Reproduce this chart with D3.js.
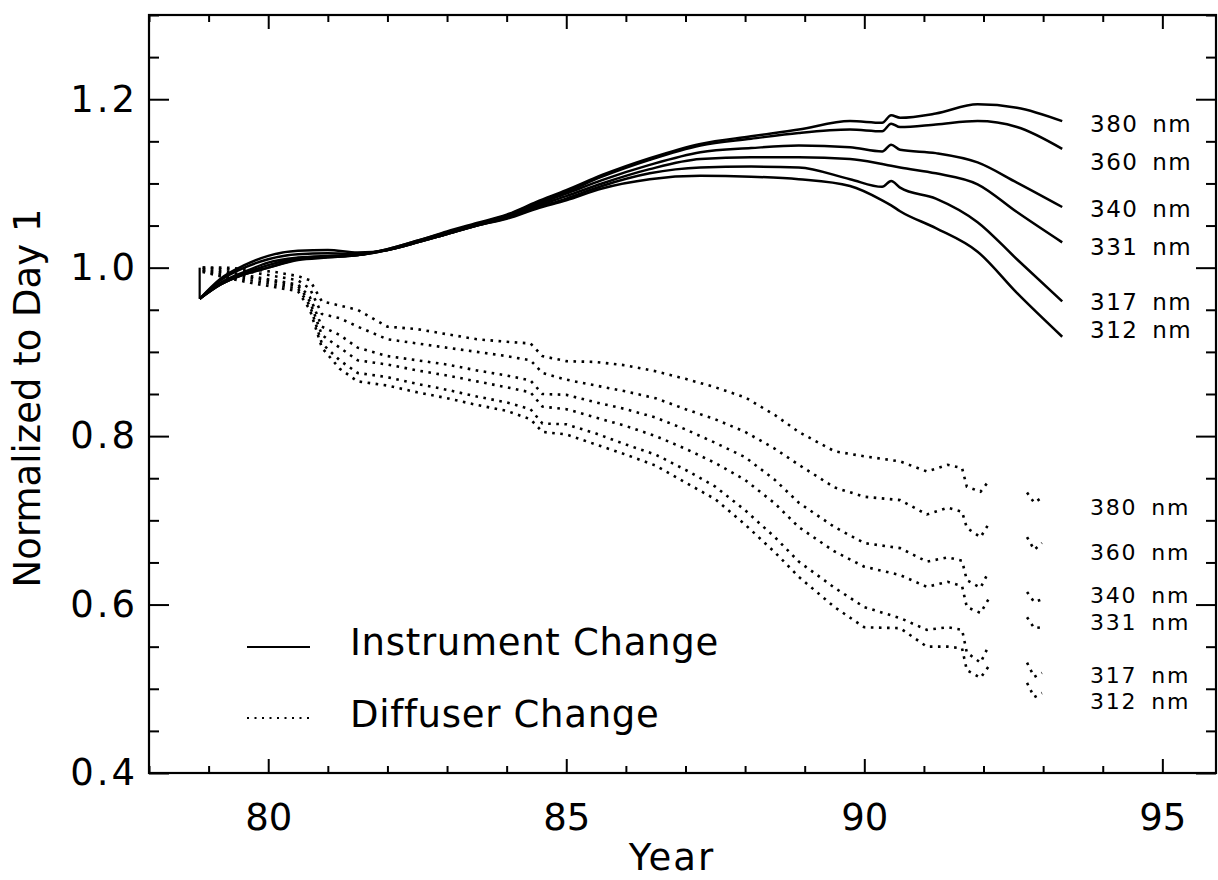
<!DOCTYPE html>
<html>
<head>
<meta charset="utf-8">
<script src="https://cdn.jsdelivr.net/npm/d3@7"></script>
<style>
  html, body { margin: 0; padding: 0; background: #fff; }
  svg { display: block; }
  text { font-family: "DejaVu Sans", sans-serif; fill: #000; }
</style>
</head>
<body>
<svg id="chart" width="1218" height="880"></svg>
<script>
// ---------- data ----------
const wavelengths = ["380 nm", "360 nm", "340 nm", "331 nm", "317 nm", "312 nm"];

const instStartYear = 78.85;
const instStartValues = [1.0, 0.963];

const instYears = [78.85, 79.2, 79.6, 80.0, 80.5, 81.0, 81.5, 82.0, 82.5, 83.0, 83.5, 84.0, 84.5, 85.0, 85.6, 86.4, 87.25, 88.1, 88.9, 89.76, 90.3, 90.45, 90.6, 91.2, 91.9, 92.56, 93.32];
const inst380 = [0.963, 0.98, 0.992, 1.0, 1.01, 1.013, 1.015, 1.022, 1.032, 1.043, 1.053, 1.063, 1.078, 1.092, 1.11, 1.13, 1.147, 1.156, 1.164, 1.174, 1.172, 1.181, 1.178, 1.183, 1.194, 1.19, 1.174];
const inst360 = [0.963, 0.98, 0.992, 1.0, 1.009, 1.012, 1.015, 1.022, 1.032, 1.042, 1.052, 1.062, 1.077, 1.09, 1.108, 1.128, 1.145, 1.153, 1.16, 1.164, 1.162, 1.171, 1.167, 1.17, 1.174, 1.167, 1.141];
const inst340 = [0.963, 0.98, 0.993, 1.003, 1.011, 1.013, 1.015, 1.021, 1.031, 1.041, 1.051, 1.061, 1.075, 1.088, 1.104, 1.122, 1.137, 1.142, 1.145, 1.143, 1.138, 1.146, 1.14, 1.136, 1.125, 1.101, 1.072];
const inst331 = [0.963, 0.982, 0.995, 1.006, 1.012, 1.014, 1.015, 1.021, 1.03, 1.04, 1.05, 1.06, 1.073, 1.085, 1.1, 1.117, 1.129, 1.131, 1.131, 1.129, 1.123, 1.121, 1.119, 1.112, 1.099, 1.066, 1.03];
const inst317 = [0.963, 0.985, 1.0, 1.01, 1.016, 1.017, 1.016, 1.021, 1.03, 1.04, 1.05, 1.059, 1.071, 1.082, 1.097, 1.112, 1.119, 1.12, 1.119, 1.105, 1.096, 1.103, 1.095, 1.082, 1.054, 1.01, 0.96];
const inst312 = [0.963, 0.987, 1.003, 1.014, 1.02, 1.021, 1.018, 1.021, 1.03, 1.04, 1.05, 1.058, 1.07, 1.08, 1.094, 1.105, 1.109, 1.108, 1.105, 1.097, 1.08, 1.074, 1.067, 1.047, 1.019, 0.97, 0.918];

const diffYears = [78.9, 79.3, 79.7, 80.1, 80.5, 80.7, 80.9, 81.2, 81.5, 82.0, 82.5, 83.0, 83.5, 84.0, 84.4, 84.6, 85.0, 85.5, 86.0, 86.5, 87.0, 87.5, 88.0, 88.5, 88.9, 89.5, 90.0, 90.6, 91.05, 91.4, 91.64, 91.72, 91.95, 92.08];
const diff380 = [1.0, 1.0, 0.998, 0.995, 0.99, 0.985, 0.96, 0.955, 0.95, 0.93, 0.927, 0.921, 0.915, 0.912, 0.91, 0.895, 0.889, 0.888, 0.884, 0.877, 0.868, 0.858, 0.846, 0.825, 0.805, 0.782, 0.776, 0.770, 0.758, 0.766, 0.762, 0.740, 0.734, 0.746];
const diff360 = [1.0, 0.998, 0.995, 0.99, 0.985, 0.975, 0.945, 0.94, 0.93, 0.915, 0.91, 0.905, 0.9, 0.895, 0.89, 0.875, 0.867, 0.86, 0.853, 0.845, 0.832, 0.82, 0.805, 0.785, 0.766, 0.739, 0.728, 0.724, 0.707, 0.715, 0.71, 0.691, 0.680, 0.695];
const diff340 = [0.998, 0.995, 0.99, 0.985, 0.98, 0.965, 0.93, 0.92, 0.905, 0.895, 0.89, 0.885, 0.878, 0.872, 0.866, 0.85, 0.849, 0.84, 0.832, 0.822, 0.808, 0.792, 0.775, 0.748, 0.721, 0.692, 0.673, 0.667, 0.651, 0.656, 0.652, 0.629, 0.620, 0.638];
const diff331 = [0.997, 0.993, 0.988, 0.983, 0.978, 0.96, 0.92, 0.905, 0.89, 0.885, 0.878, 0.872, 0.865, 0.858, 0.852, 0.835, 0.832, 0.822, 0.812, 0.80, 0.785, 0.768, 0.748, 0.72, 0.692, 0.663, 0.645, 0.635, 0.621, 0.627, 0.622, 0.597, 0.590, 0.606];
const diff317 = [0.996, 0.99, 0.985, 0.98, 0.975, 0.955, 0.91, 0.89, 0.875, 0.87, 0.862, 0.855, 0.847, 0.84, 0.832, 0.815, 0.814, 0.803, 0.79, 0.778, 0.76, 0.74, 0.712, 0.68, 0.651, 0.620, 0.597, 0.584, 0.570, 0.573, 0.57, 0.543, 0.531, 0.550];
const diff312 = [0.995, 0.988, 0.982, 0.977, 0.972, 0.95, 0.905, 0.88, 0.865, 0.86, 0.852, 0.845, 0.837, 0.83, 0.82, 0.805, 0.802, 0.79, 0.778, 0.765, 0.745, 0.725, 0.695, 0.662, 0.633, 0.597, 0.573, 0.572, 0.550, 0.550, 0.548, 0.522, 0.513, 0.526];

const tailYears = [92.73, 92.85, 92.98];
const tail380 = [0.733, 0.721, 0.727];
const tail360 = [0.68, 0.665, 0.673];
const tail340 = [0.615, 0.603, 0.606];
const tail331 = [0.585, 0.572, 0.573];
const tail317 = [0.531, 0.514, 0.519];
const tail312 = [0.507, 0.490, 0.495];

const xMajorTicks = [80, 85, 90, 95];
const yMajorTicks = [0.4, 0.6, 0.8, 1.0, 1.2];

// ---------- layout ----------
const svg = d3.select("#chart");
const L = 149, R = 1216, T = 15, B = 773;
const x = d3.scaleLinear().domain([78, 95.9]).range([L, R]);
const y = d3.scaleLinear().domain([0.4, 1.3]).range([B, T]);

// label baselines (pixels)
const instLabelY = [132, 170, 217, 255, 310, 338];
const diffLabelY = [515, 560, 603, 630, 683, 709];

svg.append("rect").attr("width", 1218).attr("height", 880).attr("fill", "#fff");

const instSeries = [inst380, inst360, inst340, inst331, inst317, inst312];
const diffSeries = [diff380, diff360, diff340, diff331, diff317, diff312];
const tailSeries = [tail380, tail360, tail340, tail331, tail317, tail312];

const line = d3.line().x(d => x(d[0])).y(d => y(d[1])).curve(d3.curveMonotoneX);
const lineLin = d3.line().x(d => x(d[0])).y(d => y(d[1]));

const plot = svg.append("g");

// instrument (solid)
plot.append("path")
  .attr("d", lineLin(instStartValues.map(v => [instStartYear, v])))
  .attr("fill", "none").attr("stroke", "#000").attr("stroke-width", 2.2);
instSeries.forEach(s => {
  plot.append("path")
    .attr("d", line(instYears.map((yr, i) => [yr, s[i]])))
    .attr("fill", "none").attr("stroke", "#000").attr("stroke-width", 2.5)
    .attr("stroke-linejoin", "round");
});

// diffuser (dotted)
diffSeries.forEach((s, k) => {
  plot.append("path")
    .attr("d", lineLin(diffYears.map((yr, i) => [yr, s[i]])))
    .attr("fill", "none").attr("stroke", "#000").attr("stroke-width", 2.6)
    .attr("stroke-dasharray", "2.6,5.5");
  plot.append("path")
    .attr("d", lineLin(tailYears.map((yr, i) => [yr, tailSeries[k][i]])))
    .attr("fill", "none").attr("stroke", "#000").attr("stroke-width", 2.6)
    .attr("stroke-dasharray", "2.6,5.5");
});

// ---------- axes ----------
const fs = 37;
function styleAxis(g) {
  g.select(".domain").remove();
  g.selectAll("line").attr("stroke", "#000").attr("stroke-width", 2);
  g.selectAll("text").style("font-size", fs + "px").style("font-family", '"DejaVu Sans", sans-serif');
}
const yMinor = d3.range(0.4, 1.3001, 0.05).map(v => +v.toFixed(2)).filter(v => !yMajorTicks.includes(v));
const xMinor = d3.range(78, 96, 1).filter(v => !xMajorTicks.includes(v));

// left
svg.append("g").attr("transform", `translate(${L},0)`)
  .call(d3.axisLeft(y).tickValues(yMajorTicks).tickSize(-20).tickPadding(11).tickFormat(d3.format(".1f")))
  .call(styleAxis)
  .call(g => g.selectAll("text").style("letter-spacing", "3px"));
svg.append("g").attr("transform", `translate(${L},0)`)
  .call(d3.axisLeft(y).tickValues(yMinor).tickSize(-10).tickFormat(""))
  .call(styleAxis);
// right
svg.append("g").attr("transform", `translate(${R},0)`)
  .call(d3.axisRight(y).tickValues(yMajorTicks).tickSize(-20).tickFormat(""))
  .call(styleAxis);
svg.append("g").attr("transform", `translate(${R},0)`)
  .call(d3.axisRight(y).tickValues(yMinor).tickSize(-10).tickFormat(""))
  .call(styleAxis);
// bottom
svg.append("g").attr("transform", `translate(0,${B})`)
  .call(d3.axisBottom(x).tickValues(xMajorTicks).tickSize(-14).tickPadding(31).tickFormat(d3.format("d")))
  .call(styleAxis);
svg.append("g").attr("transform", `translate(0,${B})`)
  .call(d3.axisBottom(x).tickValues(xMinor).tickSize(-7).tickFormat(""))
  .call(styleAxis);
// top
svg.append("g").attr("transform", `translate(0,${T})`)
  .call(d3.axisTop(x).tickValues(xMajorTicks).tickSize(-14).tickFormat(""))
  .call(styleAxis);
svg.append("g").attr("transform", `translate(0,${T})`)
  .call(d3.axisTop(x).tickValues(xMinor).tickSize(-7).tickFormat(""))
  .call(styleAxis);

// frame
svg.append("rect").attr("x", L).attr("y", T).attr("width", R - L).attr("height", B - T)
  .attr("fill", "none").attr("stroke", "#000").attr("stroke-width", 2.2);

// ---------- titles ----------
svg.append("text").attr("x", 672).attr("y", 870).attr("text-anchor", "middle")
  .style("font-size", "37px").style("letter-spacing", "2px").text("Year");
svg.append("text").attr("transform", "translate(40,398) rotate(-90)").attr("text-anchor", "middle")
  .style("font-size", "37px").text("Normalized to Day 1");

// ---------- wavelength labels ----------
wavelengths.forEach((w, i) => {
  svg.append("text").attr("x", 1090).attr("y", instLabelY[i])
    .style("font-size", "23px").style("letter-spacing", "1.5px").style("word-spacing", "5px").text(w);
  svg.append("text").attr("x", 1090).attr("y", diffLabelY[i])
    .style("font-size", "22px").style("letter-spacing", "1.8px").style("word-spacing", "5px").text(w);
});

// ---------- legend ----------
svg.append("line").attr("x1", 247).attr("x2", 310).attr("y1", 647).attr("y2", 647)
  .attr("stroke", "#000").attr("stroke-width", 2);
svg.append("text").attr("x", 350).attr("y", 655).style("font-size", "37px")
  .style("letter-spacing", "0.7px").text("Instrument Change");
svg.append("line").attr("x1", 247).attr("x2", 310).attr("y1", 718).attr("y2", 718)
  .attr("stroke", "#000").attr("stroke-width", 2).attr("stroke-dasharray", "2,5.5");
svg.append("text").attr("x", 350).attr("y", 727).style("font-size", "37px")
  .style("letter-spacing", "0.7px").text("Diffuser Change");
</script>
</body>
</html>
